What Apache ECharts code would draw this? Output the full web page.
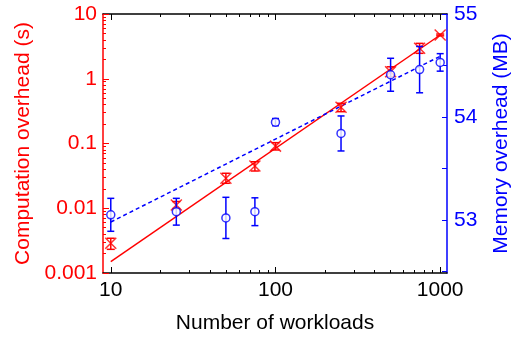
<!DOCTYPE html>
<html><head><meta charset="utf-8">
<script src="https://cdn.jsdelivr.net/npm/echarts@6/dist/echarts.min.js"></script>
<style>html,body{margin:0;padding:0;background:#fff}#c{width:520px;height:339px}</style>
</head><body><div id="c"></div>
<script>
// ---- data ----
const workloads = [10, 25, 50, 75, 100, 250, 500, 750, 1000];
const compTime  = [0.00288, 0.0112, 0.029, 0.045, 0.091, 0.362, 1.28, 2.95, 4.74];
const compLow   = [0.00232, 0.0099, 0.0243, 0.0376, 0.0794, 0.31, 1.08, 2.47, 4.6];
const compHigh  = [0.00344, 0.0127, 0.0347, 0.0523, 0.103, 0.418, 1.53, 3.52, 4.9];
const memMB     = [53.05, 53.08, 53.02, 53.08, 53.95, 53.84, 54.41, 54.46, 54.53];
const memErr    = [0.16, 0.13, 0.20, 0.135, 0.035, 0.17, 0.16, 0.225, 0.085];
const fitX      = [10, 1000];
const compFitY  = [0.0015, 4.74];
const memFitY   = [52.98, 54.59];
const xMajorTicks = [10, 100, 1000];
const xMajorLabels = ['10', '100', '1000'];
const xMinorTicks = [20,30,40,50,60,70,80,90,200,300,400,500,600,700,800,900];
const yMajorTicks = [0.001, 0.01, 0.1, 1, 10];
const yMajorLabels = ['0.001', '0.01', '0.1', '1', '10'];
const yMinorTicks = [0.002,0.003,0.004,0.005,0.006,0.007,0.008,0.009,
                     0.02,0.03,0.04,0.05,0.06,0.07,0.08,0.09,
                     0.2,0.3,0.4,0.5,0.6,0.7,0.8,0.9,
                     2,3,4,5,6,7,8,9];
const rMajorTicks = [53, 54, 55];
const rMinorTicks = [52.5, 53.5, 54.5];

const RED = '#ff0000', BLUE = '#0000ff', FONT = 'Liberation Sans, Arial, sans-serif';
const X_MIN = 8.97, X_MAX = 1100;
const Y_MIN = 0.001, Y_MAX = 10;
const R_MIN = 52.485, R_MAX = 55;
const lg = Math.log10;

// tick-only value axes laid over the log axes (log10 positions computed by the axis scale)
function tickAxis(kind, pos, lo, hi, ticks, len, color, labels, showLine, extra) {
  const lt = ticks.map(lg);
  const a = {
    type: 'value', min: lg(lo), max: lg(hi), position: pos,
    axisLine: { show: !!showLine, onZero: false, lineStyle: { color: color, width: 1.5 } },
    axisTick: { show: true, inside: true, length: len, customValues: lt, lineStyle: { color: color, width: 1 } },
    axisLabel: labels ? { show: true, customValues: lt, color: color, fontSize: 21, fontFamily: FONT,
      margin: kind === 'x' ? 7 : 6,
      formatter: v => { const i = lt.findIndex(t => Math.abs(t - v) < 1e-6); return i >= 0 ? labels[i] : ''; } }
      : { show: false },
    splitLine: { show: false }
  };
  return Object.assign(a, extra || {});
}

const chart = echarts.init(document.getElementById('c'), null, { renderer: 'canvas' });

function errBar(color, hw) {
  return function (params, api) {
    const x = api.value(0), lo = api.value(1), hi = api.value(2);
    const a = api.coord([x, lo]), b = api.coord([x, hi]);
    const st = { stroke: color, lineWidth: 1.5 };
    return { type: 'group', children: [
      { type: 'line', shape: { x1: a[0], y1: a[1], x2: b[0], y2: b[1] }, style: st },
      { type: 'line', shape: { x1: a[0] - hw, y1: a[1], x2: a[0] + hw, y2: a[1] }, style: st },
      { type: 'line', shape: { x1: b[0] - hw, y1: b[1], x2: b[0] + hw, y2: b[1] }, style: st }
    ]};
  };
}

const hidden = { axisLine: { show: false, onZero: false }, axisTick: { show: false }, axisLabel: { show: false }, splitLine: { show: false } };

chart.setOption({
  animation: false,
  grid: { left: 103, right: 64, top: 14, bottom: 66, containLabel: false },
  xAxis: [
    Object.assign({ type: 'log', logBase: 10, min: X_MIN, max: X_MAX, position: 'bottom' }, hidden),
    tickAxis('x', 'bottom', X_MIN, X_MAX, xMajorTicks, 6, '#000', xMajorLabels, true, {
      name: 'Number of workloads', nameLocation: 'middle', nameGap: 40,
      nameTextStyle: { color: '#000', fontSize: 21, fontFamily: FONT } }),
    tickAxis('x', 'bottom', X_MIN, X_MAX, xMinorTicks, 3, '#000', null, false),
    tickAxis('x', 'top', X_MIN, X_MAX, xMajorTicks, 6, '#000', null, true),
    tickAxis('x', 'top', X_MIN, X_MAX, xMinorTicks, 3, '#000', null, false)
  ],
  yAxis: [
    Object.assign({ type: 'log', logBase: 10, min: Y_MIN, max: Y_MAX, position: 'left' }, hidden),
    { type: 'value', min: R_MIN, max: R_MAX, position: 'right',
      name: 'Memory overhead (MB)', nameLocation: 'middle', nameRotate: 90, nameGap: 44,
      nameTextStyle: { color: BLUE, fontSize: 21, fontFamily: FONT },
      axisLine: { show: true, onZero: false, lineStyle: { color: BLUE, width: 1.5 } },
      axisTick: { show: true, inside: true, length: 5, customValues: rMajorTicks.concat(rMinorTicks), lineStyle: { color: BLUE, width: 1 } },
      axisLabel: { show: true, customValues: rMajorTicks, color: BLUE, fontSize: 21, fontFamily: FONT, margin: 7,
        formatter: v => String(Math.round(v)) },
      splitLine: { show: false } },
    tickAxis('y', 'left', Y_MIN, Y_MAX, yMajorTicks, 6, RED, yMajorLabels, true, {
      name: 'Computation overhead (s)', nameLocation: 'middle', nameRotate: 90, nameGap: 68,
      nameTextStyle: { color: RED, fontSize: 21, fontFamily: FONT } }),
    tickAxis('y', 'left', Y_MIN, Y_MAX, yMinorTicks, 3, RED, null, false)
  ],
  series: [
    { type: 'line', xAxisIndex: 0, yAxisIndex: 0, data: fitX.map((x, i) => [x, compFitY[i]]),
      showSymbol: false, lineStyle: { color: RED, width: 1.5 }, z: 2 },
    { type: 'line', xAxisIndex: 0, yAxisIndex: 1, data: fitX.map((x, i) => [x, memFitY[i]]),
      showSymbol: false, lineStyle: { color: BLUE, width: 1.5, type: [4, 3] }, z: 2 },
    { type: 'custom', xAxisIndex: 0, yAxisIndex: 0, renderItem: errBar(RED, 4),
      encode: { x: 0, y: [1, 2] },
      data: workloads.map((x, i) => [x, compLow[i], compHigh[i]]), z: 3 },
    { type: 'scatter', xAxisIndex: 0, yAxisIndex: 0, data: workloads.map((x, i) => [x, compTime[i]]),
      symbol: 'path://M0,0L10,10M10,0L0,10', symbolSize: 11,
      itemStyle: { color: 'rgba(0,0,0,0)', borderColor: RED, borderWidth: 1.5 }, z: 4 },
    { type: 'custom', xAxisIndex: 0, yAxisIndex: 1, renderItem: errBar(BLUE, 3.5),
      encode: { x: 0, y: [1, 2] },
      data: workloads.map((x, i) => [x, memMB[i] - memErr[i], memMB[i] + memErr[i]]), z: 5 },
    { type: 'scatter', xAxisIndex: 0, yAxisIndex: 1, data: workloads.map((x, i) => [x, memMB[i]]),
      symbol: 'circle', symbolSize: 8,
      itemStyle: { color: '#fff', borderColor: BLUE, borderWidth: 1.5 }, z: 6 }
  ]
});
</script></body></html>
